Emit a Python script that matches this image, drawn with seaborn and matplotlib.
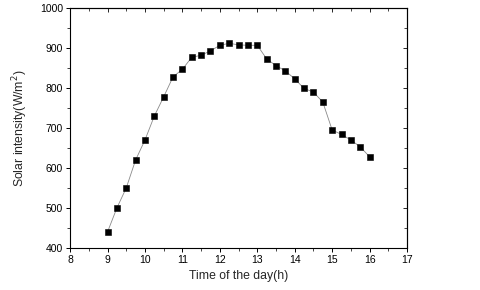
import matplotlib
matplotlib.use("Agg")
import matplotlib.pyplot as plt
import seaborn as sns
import pandas as pd
from matplotlib.ticker import MultipleLocator

time_h = [9, 9.25, 9.5, 9.75, 10, 10.25, 10.5, 10.75, 11, 11.25, 11.5, 11.75, 12,
          12.25, 12.5, 12.75, 13, 13.25, 13.5, 13.75, 14, 14.25, 14.5, 14.75, 15,
          15.25, 15.5, 15.75, 16]
intensity = [440, 500, 550, 620, 670, 730, 778, 828, 847, 877, 882, 893, 907,
             912, 908, 907, 907, 873, 856, 843, 823, 799, 790, 765, 695,
             684, 670, 653, 628]

df = pd.DataFrame({"t": time_h, "I": intensity})

sns.set_theme(style="ticks")
plt.rcParams['font.family'] = ['Liberation Sans', 'DejaVu Sans']

fig = plt.figure(figsize=(4.8, 2.9), dpi=100)
ax = fig.add_axes([0.146, 0.145, 0.702, 0.827])

sns.lineplot(data=df, x="t", y="I", ax=ax, color="#8a8a8a", linewidth=0.6,
             marker="s", markersize=3.8, markerfacecolor="black",
             markeredgecolor="black", markeredgewidth=0.4)

ax.set_xlim(8, 17)
ax.set_ylim(400, 1000)
ax.xaxis.set_major_locator(MultipleLocator(1))
ax.xaxis.set_minor_locator(MultipleLocator(0.5))
ax.yaxis.set_major_locator(MultipleLocator(100))
ax.yaxis.set_minor_locator(MultipleLocator(50))

ax.tick_params(axis="both", which="major", direction="out", length=3, width=0.7,
               labelsize=7.5, colors="black", pad=2)
ax.tick_params(axis="both", which="minor", direction="out", length=2, width=0.6)
ax2 = ax.secondary_xaxis("top")
ax2.set_xticks(range(8, 18))
ax2.xaxis.set_minor_locator(MultipleLocator(0.5))
ax2.tick_params(which="major", direction="in", length=3, width=0.7, labeltop=False)
ax2.tick_params(which="minor", direction="in", length=2, width=0.6)
ax3 = ax.secondary_yaxis("right")
ax3.set_yticks(range(400, 1001, 100))
ax3.yaxis.set_minor_locator(MultipleLocator(50))
ax3.tick_params(which="major", direction="in", length=3, width=0.7, labelright=False)
ax3.tick_params(which="minor", direction="in", length=2, width=0.6)

for s in ax.spines.values():
    s.set_linewidth(0.8)
    s.set_color("black")
for a in (ax2, ax3):
    for s in a.spines.values():
        s.set_linewidth(0.8)

ax.set_xlabel("Time of the day(h)", fontsize=8.8, labelpad=4)
ax.set_ylabel(r"Solar intensity(W/m$^2$)", fontsize=8.8, labelpad=7)

fig.savefig("out.png", dpi=100, facecolor="white")
